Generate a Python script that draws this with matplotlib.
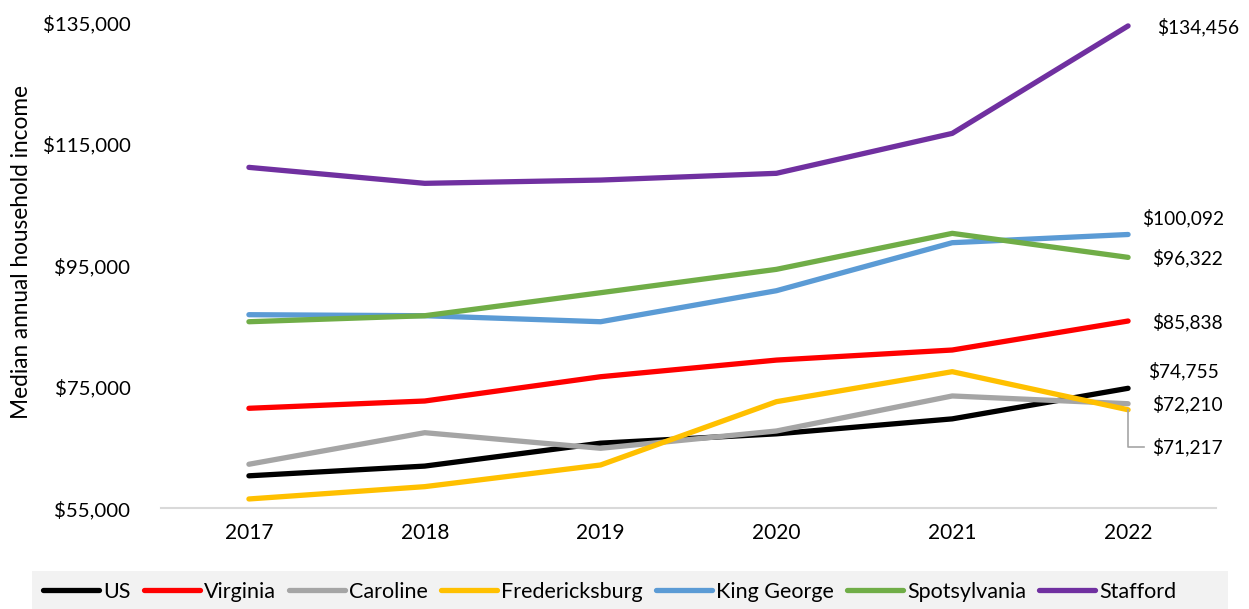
import matplotlib
matplotlib.use("Agg")
import matplotlib.pyplot as plt
from matplotlib.patches import Rectangle
from matplotlib.ticker import FuncFormatter

years = ["2017", "2018", "2019", "2020", "2021", "2022"]

us = [60336, 61937, 65712, 67250, 69717, 74755]
virginia = [71460, 72660, 76660, 79400, 81060, 85838]
caroline = [62240, 67440, 64870, 67720, 73490, 72210]
fredericksburg = [56520, 58550, 62120, 72550, 77490, 71217]
king_george = [86880, 86710, 85720, 90830, 98740, 100092]
spotsylvania = [85720, 86710, 90500, 94350, 100280, 96322]
stafford = [111150, 108520, 109060, 110170, 116750, 134456]

series_names = ["US", "Virginia", "Caroline", "Fredericksburg",
                "King George", "Spotsylvania", "Stafford"]
series_values = [us, virginia, caroline, fredericksburg,
                 king_george, spotsylvania, stafford]
colors = ["#000000", "#FF0000", "#A5A5A5", "#FFC000",
          "#5B9BD5", "#70AD47", "#7030A0"]

y_ticks = [55000, 75000, 95000, 115000, 135000]

FONT = "Lato"
W, H = 1249, 609
fig = plt.figure(figsize=(W / 100, H / 100), dpi=100)

def fx(px):
    return px / W

def fy(py):
    return 1 - py / H

ax = fig.add_axes([fx(161), fy(508.2), fx(1216) - fx(161), fy(22.6) - fy(508.2)])

x = list(range(len(years)))
for name, vals, c in zip(series_names, series_values, colors):
    ax.plot(x, vals, color=c, lw=3.8, solid_capstyle="round",
            solid_joinstyle="round", label=name, clip_on=False)

ax.set_xlim(-0.5, len(years) - 0.5)
ax.set_ylim(y_ticks[0], y_ticks[-1])
ax.set_xticks(x)
ax.set_xticklabels(years, fontsize=15, family=FONT)
ax.set_yticks(y_ticks)
ax.yaxis.set_major_formatter(FuncFormatter(lambda v, p: f"${v:,.0f}"))
for lab in ax.get_yticklabels():
    lab.set_family(FONT)
    lab.set_fontsize(14.7)
ax.tick_params(axis="both", length=0)
ax.tick_params(axis="x", pad=11)
ax.tick_params(axis="y", pad=22)
for s in ["top", "right", "left"]:
    ax.spines[s].set_visible(False)
ax.spines["bottom"].set_color("#D9D9D9")
ax.spines["bottom"].set_linewidth(1.5)

fig.text(fx(22), fy(252), "Median annual household income", fontsize=16.3,
         family=FONT, rotation=90, ha="center", va="center")

# End-of-line value labels
last = len(years) - 1
label_pos = {
    "Stafford": (1157, 27),
    "King George": (1142, 218),
    "Spotsylvania": (1152, 258),
    "Virginia": (1152, 322),
    "US": (1148, 371),
    "Caroline": (1152, 404),
    "Fredericksburg": (1152, 447),
}
for name, vals in zip(series_names, series_values):
    px, py = label_pos[name]
    fig.text(fx(px), fy(py), f"${vals[last]:,.0f}", fontsize=13.8,
             family=FONT, ha="left", va="center")

# Leader line for the Fredericksburg label
yv = fredericksburg[last]
disp = ax.transData.transform((last, yv))
x0, y0 = disp[0] / W, disp[1] / H
fig.add_artist(plt.Line2D([x0, x0, fx(1144)], [y0, fy(447), fy(447)],
                          color="#A5A5A5", lw=1.2))

# Legend band
fig.add_artist(Rectangle((fx(32), 0), fx(1228) - fx(32), fy(571),
                         transform=fig.transFigure, facecolor="#F2F2F2",
                         edgecolor="none", zorder=0))
handles, labels = ax.get_legend_handles_labels()
fig.legend(handles, labels, loc="center", bbox_to_anchor=(fx(610), fy(592)),
           ncol=7, frameon=False, handlelength=2.6, handletextpad=0.2,
           columnspacing=0.6, borderaxespad=0, borderpad=0,
           prop={"family": FONT, "size": 15.5})

fig.savefig("out.png", dpi=100)
